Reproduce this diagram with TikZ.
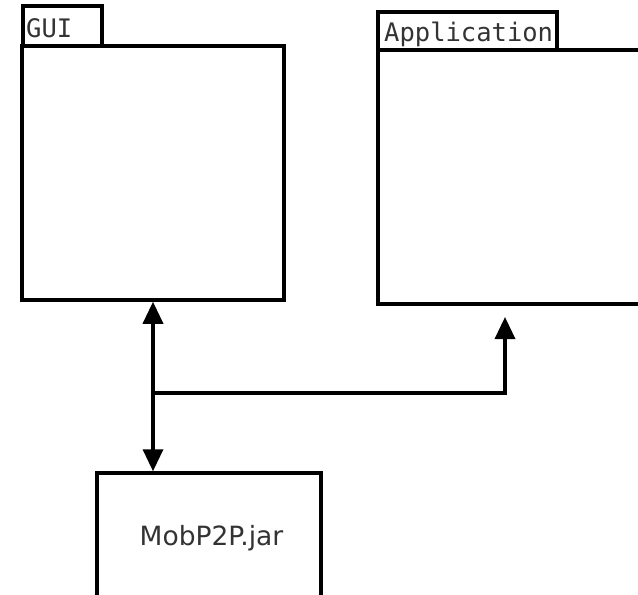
\documentclass[tikz,border=0pt]{standalone}
\usepackage{fontspec}
\setmainfont{DejaVu Sans}
\newfontfamily\monof{DejaVu Sans Mono}
\usetikzlibrary{arrows.meta}
\definecolor{txt}{HTML}{333333}
\begin{document}
\begin{tikzpicture}[x=1pt,y=-1pt,
  box/.style={draw, line width=3.5pt, inner sep=0pt, rectangle, fill=white},
  conn/.style={line width=3.5pt},
  tipa/.tip={Triangle[width=20pt,length=22pt]},
  lbl/.style={anchor=base west, inner sep=0pt, text=txt, font=\monof\fontsize{25.5}{26}\selectfont}]
\useasboundingbox (0,0) rectangle (638,595);
\clip (0,0) rectangle (638,595);
\fill[white] (0,0) rectangle (638,595);
% GUI package
\node[box, minimum width=79pt, minimum height=40pt] (guitab) at (62.5,26) {};
\node[box, minimum width=262pt, minimum height=254pt] (gui) at (153,173) {};
\node[lbl] (guilbl) at (26,37) {GUI};
% Application package
\node[box, minimum width=179pt, minimum height=38pt] (apptab) at (467.5,31) {};
\node[box, minimum width=282pt, minimum height=254pt] (app) at (519,177) {};
\node[lbl] (applbl) at (384,41) {Application};
% jar
\node[box, minimum width=224pt, minimum height=147pt] (jar) at (209,546.5) {};
\node[anchor=base, inner sep=0pt, text=txt, font=\fontsize{26.5}{27}\selectfont] (jarlbl) at (211.5,545) {MobP2P.jar};
% connectors
\coordinate (junc) at (153,393);
\coordinate (corner) at (505,393);
\coordinate (apptip) at (505,317);
\draw[conn, tipa-tipa] (gui.south) -- (gui.south |- jar.north);
\draw[conn, -tipa] (junc) -- (corner) -- (apptip);
\end{tikzpicture}
\end{document}
